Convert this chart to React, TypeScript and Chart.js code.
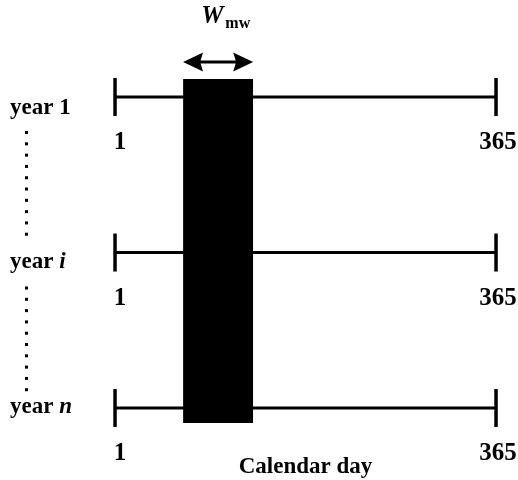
import React, { useEffect, useRef } from "react";
import { Chart, registerables } from "chart.js";

Chart.register(...registerables);

// ---- data ----
const yearNames: string[] = ["1", "i", "n"];
const yearItalic: boolean[] = [false, true, true];
const dayRange: number[] = [1, 365];
const windowDays: number[] = [66, 133];
const tickLabels: string[] = ["1", "365"];
const axisTitle = "Calendar day";
const windowLabel = "W";
const windowSub = "mw";

const SERIF = '"Liberation Serif", "DejaVu Serif", serif';

export default function App() {
  const ref = useRef<HTMLCanvasElement | null>(null);

  useEffect(() => {
    if (!ref.current) return;
    const n = yearNames.length;
    const rowVal = (i: number) => n - 1 - i;

    const datasets: any[] = [];
    // window rectangle (top edge filled to bottom edge)
    const topVal = rowVal(0) + 0.116;
    const botVal = rowVal(n - 1) - 0.096;
    datasets.push({
      data: [
        { x: windowDays[0], y: topVal },
        { x: windowDays[1], y: topVal },
      ],
      borderColor: "#000",
      borderWidth: 0,
      backgroundColor: "#000",
      pointRadius: 0,
      fill: "+1",
      order: 1,
    });
    datasets.push({
      data: [
        { x: windowDays[0], y: botVal },
        { x: windowDays[1], y: botVal },
      ],
      borderColor: "#000",
      borderWidth: 0,
      backgroundColor: "#000",
      pointRadius: 0,
      fill: false,
      order: 1,
    });
    yearNames.forEach((_, i) => {
      datasets.push({
        data: [
          { x: dayRange[0], y: rowVal(i) },
          { x: dayRange[1], y: rowVal(i) },
        ],
        borderColor: "#000",
        borderWidth: 3,
        pointStyle: "line",
        pointRotation: 90,
        pointRadius: 19,
        pointBorderWidth: 3.5,
        pointBorderColor: "#000",
        pointBackgroundColor: "#000",
        fill: false,
        order: 2,
      });
    });

    const labelsPlugin = {
      id: "labels",
      afterDraw(chart: any) {
        const ctx = chart.ctx as CanvasRenderingContext2D;
        const xs = chart.scales.x;
        const ys = chart.scales.y;
        const baseOff = [17, 15, 5];
        ctx.save();
        ctx.fillStyle = "#000";
        ctx.textBaseline = "alphabetic";
        yearNames.forEach((nm, i) => {
          const yp = ys.getPixelForValue(rowVal(i));
          ctx.font = `bold 23px ${SERIF}`;
          ctx.textAlign = "left";
          const pre = "year ";
          ctx.fillText(pre, 10, yp + baseOff[i]);
          const w = ctx.measureText(pre).width;
          ctx.font = `${yearItalic[i] ? "italic " : ""}bold 23px ${SERIF}`;
          ctx.fillText(nm, 10 + w, yp + baseOff[i]);
          // tick labels
          ctx.font = `bold 25px ${SERIF}`;
          ctx.textAlign = "center";
          ctx.fillText(tickLabels[0], xs.getPixelForValue(dayRange[0]) + 5, yp + 52);
          ctx.fillText(tickLabels[1], xs.getPixelForValue(dayRange[1]) + 2, yp + 52);
          // dotted separators
          if (i < n - 1) {
            for (let k = 0; k < 10; k++) {
              ctx.fillRect(25, yp + 34 + k * 11.3, 3, 3);
            }
          }
        });
        // axis title
        const mid = (xs.getPixelForValue(dayRange[0]) + xs.getPixelForValue(dayRange[1])) / 2;
        const lastRow = ys.getPixelForValue(rowVal(n - 1));
        ctx.font = `bold 23px ${SERIF}`;
        ctx.textAlign = "center";
        ctx.fillText(axisTitle, mid, lastRow + 65);

        // double arrow above window
        const x0 = xs.getPixelForValue(windowDays[0]);
        const x1 = xs.getPixelForValue(windowDays[1]);
        const ay = ys.getPixelForValue(rowVal(0)) - 35;
        ctx.lineWidth = 3;
        ctx.strokeStyle = "#000";
        ctx.beginPath();
        ctx.moveTo(x0 + 10, ay);
        ctx.lineTo(x1 - 10, ay);
        ctx.stroke();
        ctx.beginPath();
        ctx.moveTo(x0, ay);
        ctx.lineTo(x0 + 20, ay - 9.5);
        ctx.lineTo(x0 + 17, ay);
        ctx.lineTo(x0 + 20, ay + 9.5);
        ctx.closePath();
        ctx.fill();
        ctx.beginPath();
        ctx.moveTo(x1, ay);
        ctx.lineTo(x1 - 20, ay - 9.5);
        ctx.lineTo(x1 - 17, ay);
        ctx.lineTo(x1 - 20, ay + 9.5);
        ctx.closePath();
        ctx.fill();

        // W_mw label
        const cx = (x0 + x1) / 2;
        ctx.textAlign = "left";
        ctx.font = `italic bold 25px ${SERIF}`;
        ctx.fillText(windowLabel, cx - 17, ay - 39);
        const ww = ctx.measureText(windowLabel).width;
        ctx.font = `bold 16px ${SERIF}`;
        ctx.fillText(windowSub, cx - 17 + ww + 2, ay - 34);
        ctx.restore();
      },
    };

    const chart = new Chart(ref.current, {
      type: "line",
      data: { datasets },
      options: {
        animation: false,
        responsive: false,
        layout: { padding: 0, autoPadding: false },
        plugins: { legend: { display: false }, tooltip: { enabled: false }, title: { display: false } },
        scales: {
          x: { type: "linear", display: false, min: -108.9, max: 386.0 },
          y: { type: "linear", display: false, min: -0.463, max: 2.624 },
        },
        elements: { line: { tension: 0 } },
      },
      plugins: [labelsPlugin],
    } as any);
    return () => chart.destroy();
  }, []);

  return (
    <div style={{ position: "absolute", left: 0, top: 0, width: 518, height: 480, background: "#fff" }}>
      <canvas ref={ref} width={518} height={480} style={{ display: "block" }} />
    </div>
  );
}
